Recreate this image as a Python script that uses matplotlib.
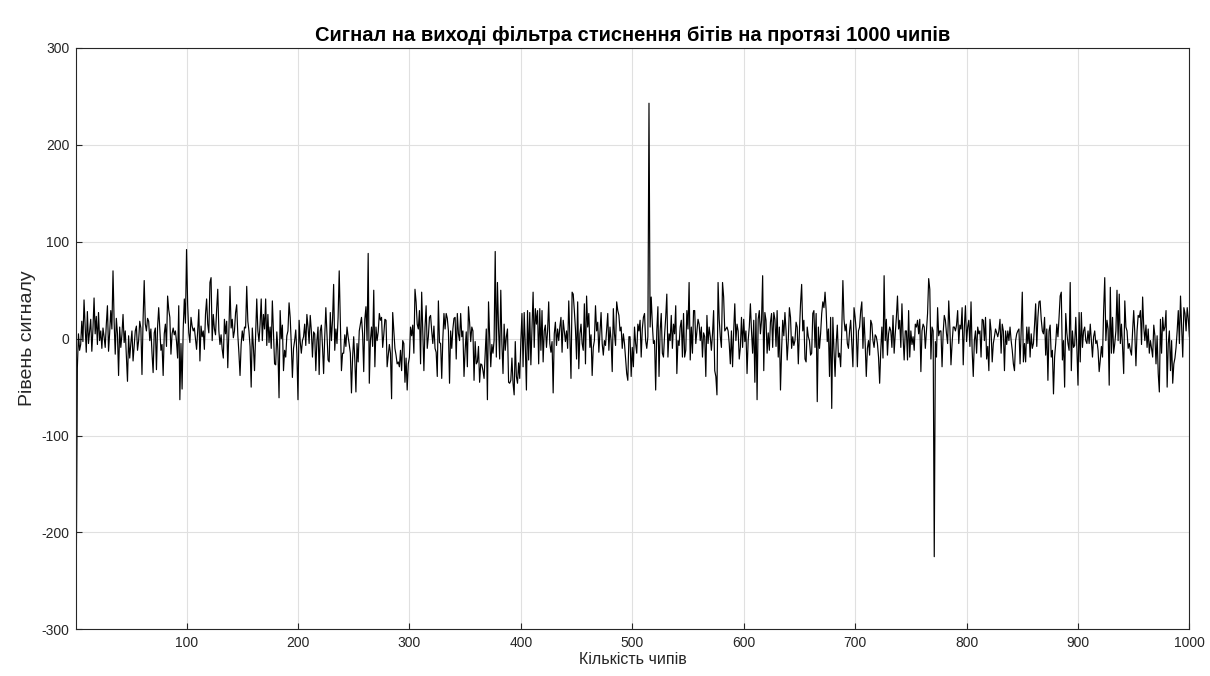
import numpy as np
import matplotlib
matplotlib.use("Agg")
import matplotlib.pyplot as plt

plt.rcParams['font.family'] = ['Liberation Sans', 'DejaVu Sans']
plt.rcParams['axes.unicode_minus'] = False

# signal, chip by chip, in 12 pieces
seg_001_083 = [-250, -30, 5, -12, -6, 18, -3, 40, 12, -14, 28, -5, 8, 20, -13, 10, 42, 5, 23, -6,
               27, -2, 8, -10, 11, 2, -9, 15, 34, -13, 6, 29, 10, 70, 18, -16, 21, 5, -38, 12,
               -9, 4, 25, -4, 8, -18, -44, 3, -20, -5, 8, -23, -8, 8, 13, -12, -2, 18, 11, -37,
               20, 60, 15, 8, 21, 18, -2, 10, -15, -35, 6, 11, -32, 12, 32, 10, -12, -6, -38, 5,
               15, -8, 44]
seg_084_166 = [30, 22, -16, 5, 11, 4, 8, -3, -20, 34, -63, -5, -52, 10, 41, 16, 92, 35, 6, -4,
               22, 13, 8, 11, 0, -11, 8, 30, -23, 13, 2, 8, -11, 25, 41, 15, 6, 58, 63, -2,
               25, 10, 4, 30, 51, 8, -6, 4, -11, -20, 20, 5, 18, -30, 8, 54, 11, 20, 1, 8,
               27, 35, 4, -15, -38, -6, 8, -2, 12, 11, 54, 18, 8, -8, -50, 11, -9, -33, 5, 41,
               8, -3, 15]
seg_167_249 = [41, -2, 25, 10, 41, -7, 25, -4, 12, -10, 39, 6, -26, -27, 7, -12, -61, 29, 0, 14,
               -33, -12, -19, 3, 8, 37, 22, -6, -40, -10, -2, 9, -15, -63, 19, -3, -15, -2, 2, 15,
               -7, 25, 12, -5, 24, 8, -19, 7, 5, -33, -2, 12, -37, 8, 14, -8, -36, 2, 32, 5,
               -22, -24, 27, -2, 19, 56, -12, 10, -5, 22, 70, 18, -33, -15, -15, 4, -8, 12, 2, -6,
               -15, -56, -20]
seg_250_332 = [2, -22, -55, -5, -24, 8, 15, 22, 5, -34, 20, 33, -2, 88, -46, -2, 12, -8, 50, -29,
               12, -2, 7, 26, 19, 22, -9, 4, 20, 19, -29, -17, -6, -15, -62, 27, 8, -10, -17, -26,
               -24, -29, -12, -33, -2, -5, -45, -20, -53, -26, -19, 12, 3, 14, -15, 51, 38, 15, 10, 29,
               -26, 48, 6, -33, 12, 34, -10, 2, 22, 24, 8, -5, 13, -10, -14, -39, 39, -4, -5, -41,
               0, 26, 10]
seg_333_414 = [26, 21, 8, -46, 8, -10, 10, 21, 22, -21, 26, 5, -2, 26, 2, 8, -39, -12, 7, -29,
               33, 17, -3, 12, 8, -43, -3, -26, -24, -8, -45, -26, -27, -33, -41, -15, 10, -63, 38, 2,
               -29, -6, -15, -2, 90, -19, 58, 10, -21, 50, -5, -36, 15, -12, 2, 10, -45, -46, -43, -20,
               -46, -58, -3, -39, -46, -25, -41, -3, 26, -29, 27, -8, -53, 29, -22, 27, -27, 10, 48, -9,
               31, 15]
seg_415_497 = [29, -26, 31, -12, 29, -24, 8, 14, -9, 8, 38, -5, -14, -3, -56, 5, 17, -7, 10, -2,
               12, 22, -14, 19, 8, -3, 8, -10, 39, 2, -41, 48, 46, 29, 10, -21, 38, -31, 5, 15,
               -5, -12, 36, -26, 44, 12, 26, -9, 4, -38, -9, -2, 34, 8, 17, -14, 7, 27, -5, -17,
               -2, -7, 10, 26, -12, 12, -2, -34, 31, 5, -7, 38, 29, 24, 8, 12, -10, 5, -5, -21,
               -36, -43, 2]
seg_498_580 = [2, -39, -9, -29, 12, -5, -15, 15, 8, 19, -19, 10, 22, 26, -2, -10, 2, 243, 12, 43,
               15, -5, -2, -53, 8, 33, -39, 8, 26, -15, -19, 4, 22, 46, -19, 5, -2, 24, -10, 15,
               5, 34, -36, -2, -7, 12, 19, -19, 26, -19, -12, 29, 10, 58, -22, 12, -15, 29, 29, -5,
               8, 20, 15, -2, 12, -19, 6, 2, -39, 24, -5, 12, 2, -12, 5, 29, -33, -39, -58, 58,
               20, 2, -9]
seg_581_662 = [58, 43, 8, 10, 12, 8, -5, -26, 8, -29, 8, 36, -2, 15, 8, -21, -9, 22, -9, 20,
               -3, 8, -36, -2, 12, 36, 8, -15, 19, -45, 26, -63, 20, 29, 5, 19, 65, -33, 27, 19,
               -15, 6, -12, 17, 26, -9, 27, 20, -8, 29, -19, 12, -53, -12, 19, 3, 27, 8, -22, -2,
               32, 22, -10, 2, -7, -2, 17, 12, -26, 8, 36, 56, 8, 19, -21, -24, 12, 2, -2, -17,
               -15, 26]
seg_663_745 = [29, -9, 26, -65, 12, -10, 5, 26, 38, 32, 48, 29, -3, 10, -39, 22, -72, 22, -12, -39,
               -5, 14, -19, -15, -29, 8, 60, 20, 8, 15, -5, -10, 8, 19, -6, -29, 32, 22, 8, -29,
               8, 12, 29, 38, -10, 22, -5, -39, -10, -2, -17, 19, 15, -2, -9, 4, 2, -5, -19, -46,
               -12, 12, -20, 65, -2, 20, -17, 5, 12, 8, -9, 24, -15, 5, 22, 44, 10, 19, -9, 36,
               2, -22, 8]
seg_746_827 = [8, -22, 29, -19, 8, -6, 2, -12, 15, 12, 19, 5, 20, -34, 8, 15, 12, -10, 8, 26,
               62, 51, -21, 12, 8, -225, -3, -19, 32, 3, 8, 8, -29, 6, 24, 19, 5, -5, 39,
               12, -27, -5, 12, 12, 8, 14, 29, -5, 14, 10, 32, -27, 12, 34, -3, 12, 19, -8, 38,
               -12, -39, -2, 8, -15, 12, 5, 8, -19, 20, 19, -2, 22, -21, -8, -33, 20, 8, -24, -5,
               2, 10, 6]
seg_828_909 = [2, 8, 20, -15, 15, 8, -33, 8, -6, 8, -2, 12, -2, -12, -26, -33, -2, 5, 8, 10,
               -26, 8, 48, -24, -5, -24, 12, -5, 12, -19, 5, -10, -5, 14, 36, -8, 22, 38, 39, 20,
               8, 5, 22, -17, 10, -43, 8, 14, -19, -12, -57, -19, -5, 15, 2, 22, 44, 48, -22, -2,
               -50, 26, 6, -5, -12, 58, -33, 8, -9, -7, 22, -10, -48, 27, -24, 27, -9, 8, 12, -2,
               -5, 8]
seg_910_1000 = [-5, 15, -2, -19, 2, 8, -5, -2, -12, -34, -22, -8, -19, 29, 63, -2, 19, 10, -48, 53,
                -15, 22, -15, -5, 8, 50, -2, 46, -5, 15, -9, -36, 39, 12, 8, -10, -5, -12, -17, 8,
                29, 5, -28, 8, 24, 22, 29, -6, 43, 12, -2, 14, -9, 10, -15, -2, -10, -19, 14, 3,
                -26, 3, -36, -55, 20, -15, 22, 8, 12, 29, -50, -5, 8, -33, -2, -46, -26, -20, -9, 8,
                29, -5, 44, 12, -19, 32, 26, 8, 32, 20, 2]

signal = np.array(seg_001_083 + seg_084_166 + seg_167_249 + seg_250_332 + seg_333_414 + seg_415_497
                  + seg_498_580 + seg_581_662 + seg_663_745 + seg_746_827 + seg_828_909 + seg_910_1000)
chips = np.arange(1, len(signal) + 1)

x_ticks = [100, 200, 300, 400, 500, 600, 700, 800, 900, 1000]
y_ticks = [-300, -200, -100, 0, 100, 200, 300]

title = 'Сигнал на виході фільтра стиснення бітів на протязі 1000 чипів'
xlabel = 'Кількість чипів'
ylabel = 'Рівень сигналу'

fig = plt.figure(figsize=(12.1, 6.76), dpi=100)
fig.patch.set_facecolor('white')
ax = fig.add_axes([0.063, 0.069, 0.920, 0.860])

ax.plot(chips, signal, color='black', linewidth=0.85)

ax.set_xlim(1, 1000)
ax.set_ylim(-300, 300)
ax.set_xticks(x_ticks)
ax.set_yticks(y_ticks)
ax.grid(True, color='#e0e0e0', linewidth=0.8)
ax.set_axisbelow(True)
ax.tick_params(direction='in', length=4, labelsize=10, colors='#262626', pad=5)
for sp in ax.spines.values():
    sp.set_color('#262626')
    sp.set_linewidth(0.8)

ax.set_title(title, fontsize=14.5, fontweight='bold', color='black', pad=5)
ax.set_xlabel(xlabel, fontsize=11.5, color='#262626', labelpad=1)
ax.set_ylabel(ylabel, fontsize=14, color='#262626', labelpad=4)

fig.savefig('out.png', dpi=100)
